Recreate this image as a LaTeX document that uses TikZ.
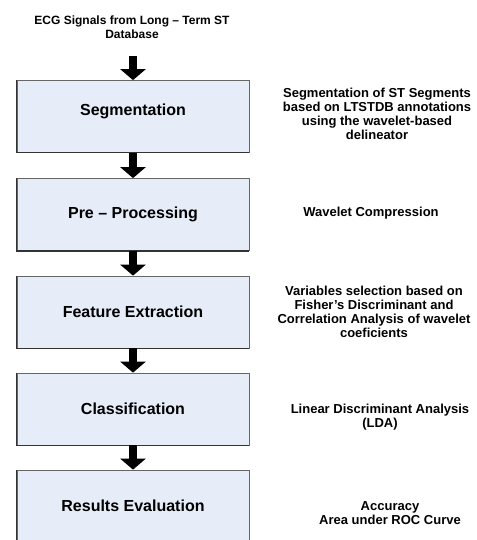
\documentclass[tikz,border=0pt]{standalone}
\usepackage{fontspec}
\setmainfont{Liberation Sans}
\usetikzlibrary{arrows.meta}
\definecolor{boxfill}{HTML}{E6EDF8}
\definecolor{boxline}{HTML}{333333}
\tikzset{
  stage/.style={draw=boxline!75, fill=boxfill, line width=0.7pt, minimum width=232pt,
    minimum height=72pt, inner sep=0pt, font=\fontsize{16}{19}\selectfont\bfseries},
  note/.style={align=center, font=\fontsize{13}{14}\selectfont\bfseries},
  flow/.style={line width=8pt, -{Triangle[width=25pt,length=11pt]}},
  shade edge/.style={draw=boxline, line width=1.3pt}
}
\begin{document}
\begin{tikzpicture}[x=1pt, y=-1pt]
    \useasboundingbox (0,0) rectangle (476,540);
    \clip (0,0) rectangle (476,540);

    % Entrada
    \node[note, font=\fontsize{12}{14}\selectfont\bfseries] (src) at (132,27)
        {ECG Signals from Long \textendash{} Term ST\\Database};
    \coordinate (in) at (133,56);

    % Etapas
    \node[stage] (seg)  at (133,116.5) {\raisebox{14pt}{Segmentation}};
    \node[stage] (pre)  at (133,214.5) {Pre \textendash{} Processing};
    \node[stage] (feat) at (133,312)   {Feature Extraction};
    \node[stage] (cls)  at (133,409)   {Classification};
    \node[stage] (res)  at (133,506)   {Results Evaluation};
    \foreach \n in {seg,pre,feat,cls,res}
        \draw[shade edge] (\n.north west) -- (\n.south west) -- (\n.south east);

    % Descricoes
    \node[note] (segtxt)  at (377,114) {Segmentation of ST Segments\\based on LTSTDB annotations\\using the wavelet-based\\delineator};
    \node[note] (pretxt)  at (371,213) {Wavelet Compression};
    \node[note] (feattxt) at (374,312) {Variables selection based on\\Fisher's Discriminant and\\Correlation Analysis of wavelet\\coeficients};
    \node[note] (clstxt)  at (380,417) {Linear Discriminant Analysis\\(LDA)};
    \node[note] (restxt)  at (390,513) {Accuracy\\Area under ROC Curve};

    % Setas
    \draw[flow] (in) -- (seg.north);
    \draw[flow] (seg.south) -- (pre.north);
    \draw[flow] (pre.south) -- (feat.north);
    \draw[flow] (feat.south) -- (cls.north);
    \draw[flow] (cls.south) -- (res.north);
\end{tikzpicture}
\end{document}
